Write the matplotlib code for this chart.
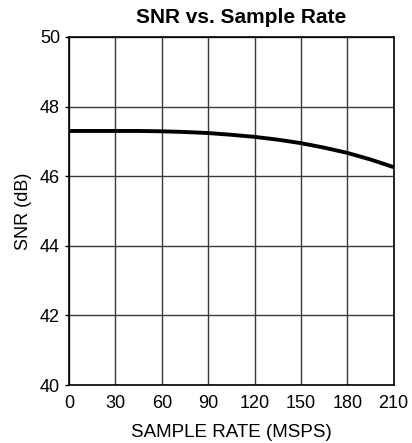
import matplotlib
matplotlib.use("Agg")
import matplotlib.pyplot as plt
import numpy as np

sample_rate = [0, 15, 30, 45, 60, 75, 90, 105, 120, 135, 150, 165, 180, 195, 210]
snr_db = [47.30, 47.30, 47.30, 47.30, 47.29, 47.27, 47.24, 47.19, 47.13, 47.05, 46.95, 46.82, 46.67, 46.48, 46.26]
x_ticks = [0, 30, 60, 90, 120, 150, 180, 210]
y_ticks = [40, 42, 44, 46, 48, 50]

plt.rcParams['font.family'] = ['Liberation Sans', 'DejaVu Sans']
fig = plt.figure(figsize=(4.12, 4.43), dpi=100)
ax = fig.add_axes([0.1675, 0.1309, 0.788, 0.7856])
ax.plot(sample_rate, snr_db, color='black', linewidth=2.8, solid_capstyle='butt')
ax.set_xlim(0, 210)
ax.set_ylim(40, 50)
ax.set_xticks(x_ticks)
ax.set_yticks(y_ticks)
ax.grid(True, color='#3a3a3a', linewidth=1.0)
ax.set_axisbelow(True)
for s in ax.spines.values():
    s.set_color('black')
    s.set_linewidth(1.2)
ax.tick_params(axis='x', length=0, labelsize=13, pad=7)
ax.tick_params(axis='y', length=3, width=1, labelsize=13, pad=3.5)
ax.set_xlabel('SAMPLE RATE (MSPS)', fontsize=13.5, labelpad=9)
ax.set_ylabel('SNR (dB)', fontsize=13, labelpad=6)
ax.set_title('SNR vs. Sample Rate', fontsize=15, fontweight='bold', pad=10, x=0.53)
fig.savefig('out.png', dpi=100)
